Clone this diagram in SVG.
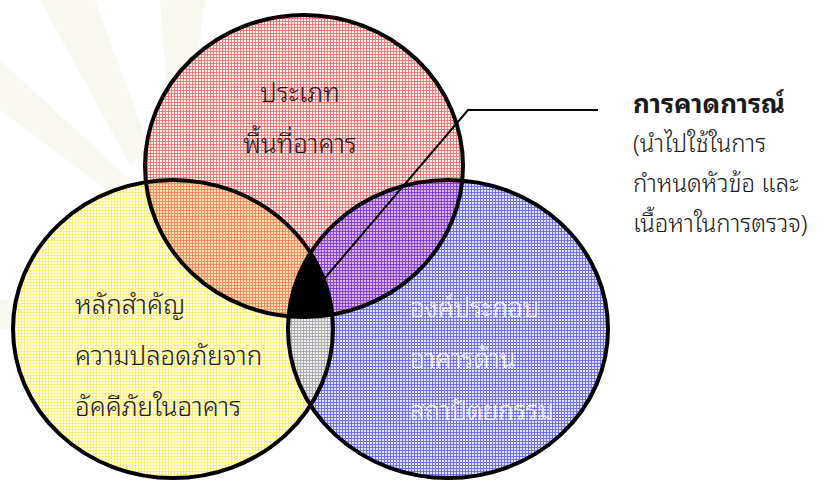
<svg xmlns="http://www.w3.org/2000/svg" width="826" height="481" viewBox="0 0 826 481">
  <defs>
    <!-- fine dithered grid fills for each set -->
    <pattern id="gridRed" width="3" height="3" patternUnits="userSpaceOnUse">
      <rect width="3" height="3" fill="#fff0f0"/>
      <path d="M0 0.5H3M0.5 0V3" stroke="#f07a7a" stroke-width="1"/>
    </pattern>
    <pattern id="gridYellow" width="3" height="3" patternUnits="userSpaceOnUse">
      <rect width="3" height="3" fill="#ffffec"/>
      <path d="M0 0.5H3M0.5 0V3" stroke="#fff07c" stroke-width="1"/>
    </pattern>
    <pattern id="gridBlue" width="3" height="3" patternUnits="userSpaceOnUse">
      <rect width="3" height="3" fill="#e4e4ff"/>
      <path d="M0 0.5H3M0.5 0V3" stroke="#7070ee" stroke-width="1"/>
    </pattern>
    <pattern id="gridOrange" width="3" height="3" patternUnits="userSpaceOnUse">
      <rect width="3" height="3" fill="#ffe0a8"/>
      <path d="M0 0.5H3M0.5 0V3" stroke="#f08a6a" stroke-width="1"/>
    </pattern>
    <pattern id="gridPurple" width="3" height="3" patternUnits="userSpaceOnUse">
      <rect width="3" height="3" fill="#e8b0e0"/>
      <path d="M0 0.5H3M0.5 0V3" stroke="#7a48d0" stroke-width="1"/>
    </pattern>
    <pattern id="gridGray" width="3" height="3" patternUnits="userSpaceOnUse">
      <rect width="3" height="3" fill="#f2f2e0"/>
      <path d="M0 0.5H3M0.5 0V3" stroke="#a8a8b8" stroke-width="1"/>
    </pattern>

    <clipPath id="clipRed"><ellipse cx="304" cy="166" rx="159" ry="151"/></clipPath>
    <clipPath id="clipYellow"><ellipse cx="173" cy="329" rx="160" ry="149"/></clipPath>
    <clipPath id="clipBlue"><ellipse cx="448" cy="329" rx="160" ry="149"/></clipPath>

    <style>
      .outline { fill: none; stroke: #000; stroke-width: 4; }
      .label { font-family: "Noto Sans Thai Looped", "Noto Serif Thai", "Noto Sans Thai", "Noto Sans", "DejaVu Sans", sans-serif; font-size: 26px; font-weight: 300; fill: #1a1a1a; }
      .label-light { fill: #f4f4ff; }
      .note { font-size: 24px; }
      .title { font-weight: bold; font-size: 26px; }
      .connector { fill: none; stroke: #000; stroke-width: 2; }
    </style>
  </defs>

  <rect width="826" height="481" fill="#ffffff"/>

  <!-- faint background emblem rays -->
  <g id="watermark" fill="#f8f7f0">
    <polygon points="40,0 95,0 150,150 130,165"/>
    <polygon points="0,60 0,110 120,200 130,180"/>
    <polygon points="160,0 205,0 190,120 170,125"/>
    <polygon points="0,300 0,330 60,320 60,300"/>
  </g>

  <!-- base sets -->
  <g id="set-red">
    <ellipse cx="304" cy="166" rx="159" ry="151" fill="url(#gridRed)"/>
  </g>
  <g id="set-yellow">
    <ellipse cx="173" cy="329" rx="160" ry="149" fill="url(#gridYellow)"/>
  </g>
  <g id="set-blue">
    <ellipse cx="448" cy="329" rx="160" ry="149" fill="url(#gridBlue)"/>
  </g>

  <!-- pairwise overlaps -->
  <g id="overlap-red-yellow" clip-path="url(#clipRed)">
    <ellipse cx="173" cy="329" rx="160" ry="149" fill="url(#gridOrange)"/>
  </g>
  <g id="overlap-red-blue" clip-path="url(#clipRed)">
    <ellipse cx="448" cy="329" rx="160" ry="149" fill="url(#gridPurple)"/>
  </g>
  <g id="overlap-yellow-blue" clip-path="url(#clipYellow)">
    <ellipse cx="448" cy="329" rx="160" ry="149" fill="url(#gridGray)"/>
  </g>
  <!-- triple overlap -->
  <g id="overlap-all" clip-path="url(#clipRed)">
    <g clip-path="url(#clipYellow)">
      <ellipse cx="448" cy="329" rx="160" ry="149" fill="#000"/>
    </g>
  </g>

  <!-- outlines -->
  <g id="outlines">
    <ellipse class="outline" cx="304" cy="166" rx="159" ry="151"/>
    <ellipse class="outline" cx="173" cy="329" rx="160" ry="149"/>
    <ellipse class="outline" cx="448" cy="329" rx="160" ry="149"/>
  </g>

  <!-- leader from the centre overlap to the callout -->
  <g id="connectors">
    <polyline class="connector" points="313,292 468,110 598,110"/>
  </g>

  <g id="label-red">
    <text class="label" x="300" y="102" text-anchor="middle">ประเภท</text>
    <text class="label" x="300" y="153" text-anchor="middle">พื้นที่อาคาร</text>
  </g>
  <g id="label-yellow">
    <text class="label" x="75" y="314">หลักสำคัญ</text>
    <text class="label" x="75" y="365">ความปลอดภัยจาก</text>
    <text class="label" x="75" y="416">อัคคีภัยในอาคาร</text>
  </g>
  <g id="label-blue">
    <text class="label label-light" x="410" y="317">องค์ประกอบ</text>
    <text class="label label-light" x="410" y="368">อาคารด้าน</text>
    <text class="label label-light" x="410" y="420">สถาปัตยกรรม</text>
  </g>
  <g id="callout">
    <text class="label title" x="633" y="113">การคาดการณ์</text>
    <text class="label note" x="633" y="152">(นำไปใช้ในการ</text>
    <text class="label note" x="633" y="192">กำหนดหัวข้อ และ</text>
    <text class="label note" x="633" y="232">เนื้อหาในการตรวจ)</text>
  </g>
</svg>
